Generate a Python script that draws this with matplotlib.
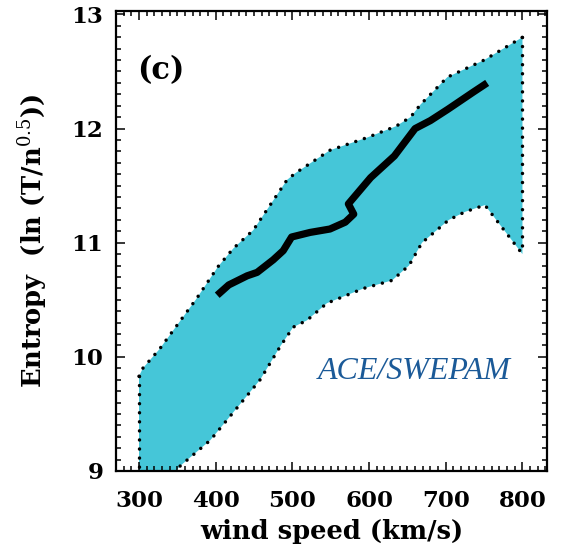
import matplotlib
matplotlib.use("Agg")
import matplotlib.pyplot as plt
from matplotlib.ticker import MultipleLocator

plt.rcParams["font.family"] = ["DejaVu Serif"]
plt.rcParams["mathtext.fontset"] = "dejavuserif"

# Spread envelope of entropy versus wind speed
upper_speed = [300, 305, 327, 375, 403, 423, 449, 475, 493, 504, 549, 597, 635, 654, 667, 702, 750, 800]
upper_entropy = [9.83, 9.90, 10.07, 10.51, 10.79, 10.95, 11.11, 11.37, 11.55, 11.61, 11.81, 11.92,
                 12.02, 12.10, 12.21, 12.45, 12.60, 12.80]
lower_speed = [300, 353, 393, 436, 458, 484, 501, 519, 545, 593, 630, 652, 669, 704, 725, 751, 800]
lower_entropy = [8.62, 9.04, 9.27, 9.62, 9.80, 10.09, 10.26, 10.32, 10.47, 10.60, 10.67, 10.80,
                 11.00, 11.20, 11.27, 11.33, 10.90]

# Median entropy curve
median_speed = [402, 417, 441, 454, 475, 488, 499, 523, 549, 569, 580, 573, 602, 633, 660, 680, 703, 736, 754]
median_entropy = [10.54, 10.63, 10.71, 10.74, 10.85, 10.93, 11.05, 11.09, 11.12, 11.18, 11.25, 11.34,
                  11.57, 11.76, 12.00, 12.07, 12.17, 12.32, 12.40]

x_ticks = [300, 400, 500, 600, 700, 800]
y_ticks = [9, 10, 11, 12, 13]

fig = plt.figure(figsize=(5.63, 5.45), dpi=100)
ax = fig.add_axes([116 / 563, 1 - 471 / 545, (547 - 116) / 563, (471 - 11) / 545])

band_color = "#45C6D8"
poly_x = upper_speed + lower_speed[::-1]
poly_y = upper_entropy + lower_entropy[::-1]
ax.fill(poly_x, poly_y, color=band_color, lw=0, zorder=1)

dot_kw = dict(color="black", lw=2.5, linestyle=(0, (0.01, 2.6)), dash_capstyle="round", zorder=2)
ax.plot(upper_speed, upper_entropy, **dot_kw)
ax.plot(lower_speed, lower_entropy, **dot_kw)
ax.plot([upper_speed[0], lower_speed[0]], [upper_entropy[0], lower_entropy[0]], **dot_kw)
ax.plot([upper_speed[-1], lower_speed[-1]], [upper_entropy[-1], lower_entropy[-1]], **dot_kw)

ax.plot(median_speed, median_entropy, color="black", lw=5.2, solid_capstyle="butt",
        solid_joinstyle="round", zorder=3)

ax.set_xlim(270, 832)
ax.set_ylim(9, 13.03)
ax.set_xticks(x_ticks)
ax.set_yticks(y_ticks)
ax.xaxis.set_minor_locator(MultipleLocator(10))
ax.yaxis.set_minor_locator(MultipleLocator(0.1))
ax.tick_params(which="both", direction="in", top=True, right=True, width=1.1, colors="black")
ax.tick_params(which="major", length=6.5)
ax.tick_params(which="minor", length=3.6)
ax.tick_params(axis="x", which="major", pad=14, labelsize=16.5)
ax.tick_params(axis="y", which="major", pad=9, labelsize=16.5)
for lbl in ax.get_xticklabels() + ax.get_yticklabels():
    lbl.set_fontweight("bold")
for sp in ax.spines.values():
    sp.set_linewidth(1.6)

ax.set_xlabel("wind speed (km/s)", fontsize=18.5, fontweight="bold")
ax.xaxis.set_label_coords(0.5, -0.105)
ax.set_ylabel(r"Entropy  (ln (T/n$^{0.5}$))", fontsize=18.5, fontweight="bold")
ax.yaxis.set_label_coords(-0.152, 0.5)

ax.text(328, 12.51, "(c)", fontsize=22, fontweight="bold", ha="center", va="center")
ax.text(659, 9.87, "ACE/SWEPAM", fontsize=23, style="italic", color="#1B5A98",
        family="Liberation Serif", ha="center", va="center")

fig.savefig("out.png", dpi=100)
